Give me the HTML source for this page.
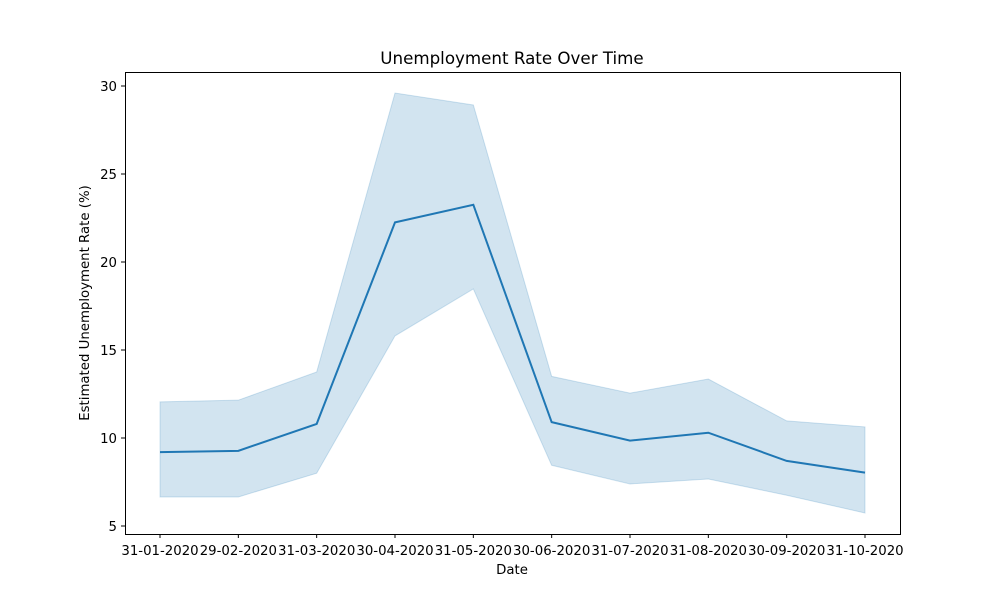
<!DOCTYPE html>
<html><head><meta charset="utf-8"><style>body{margin:0;background:#fff}svg{font-family:"DejaVu Sans","Liberation Sans",sans-serif}</style></head>
<body>
<svg id="chart" width="1000" height="600" xmlns="http://www.w3.org/2000/svg">
<rect x="0" y="0" width="1000" height="600" fill="#fff"/>
<text x="512" y="64" text-anchor="middle" font-size="16.7">Unemployment Rate Over Time</text>
<text x="512" y="574" text-anchor="middle" font-size="13.3">Date</text>
<text transform="translate(89,303) rotate(-90)" text-anchor="middle" font-size="13.3">Estimated Unemployment Rate (%)</text>
<g id="band"></g><g id="line"></g><g id="xticks"></g><g id="yticks"></g>
<rect x="125.5" y="72.5" width="775" height="462" fill="none" stroke="#000" stroke-width="1"/>
</svg>
<script>
const categories=["31-01-2020","29-02-2020","31-03-2020","30-04-2020","31-05-2020","30-06-2020","31-07-2020","31-08-2020","30-09-2020","31-10-2020"];
const meanValues=[9.2,9.27,10.8,22.25,23.25,10.9,9.85,10.3,8.7,8.03];
const upperValues=[12.05,12.15,13.75,29.6,28.92,13.5,12.55,13.35,10.97,10.63];
const lowerValues=[6.65,6.65,8.0,15.8,18.47,8.45,7.39,7.67,6.75,5.74];
const yTickValues=[5,10,15,20,25,30];
const NS="http://www.w3.org/2000/svg";
function xScale(i){return 160+i*(865-160)/(categories.length-1);}
function yScale(v){return 526-(v-5)*17.6;}
function mk(tag,attrs,parent){const e=document.createElementNS(NS,tag);for(const k in attrs)e.setAttribute(k,attrs[k]);parent.appendChild(e);return e;}
let d="";
upperValues.forEach((v,i)=>{d+=(i?"L":"M")+xScale(i)+","+yScale(v);});
for(let i=lowerValues.length-1;i>=0;i--)d+="L"+xScale(i)+","+yScale(lowerValues[i]);
const band=mk("path",{d:d+"Z",fill:"#1f77b4","fill-opacity":"0.2",stroke:"#1f77b4","stroke-opacity":"0.2"},document.getElementById("band"));


const line=mk("polyline",{points:meanValues.map((v,i)=>xScale(i)+","+yScale(v)).join(" "),fill:"none",stroke:"#1f77b4","stroke-width":"2"},document.getElementById("line"));


const xg=document.getElementById("xticks");
categories.forEach((c,i)=>{
 const t=mk("line",{x1:xScale(i),x2:xScale(i),y1:534,y2:538,stroke:"#000"},xg);
 
 
 const l=mk("text",{x:xScale(i),y:555,"text-anchor":"middle","font-size":"13.3"},xg);l.textContent=c;
 
 
});
const yg=document.getElementById("yticks");
yTickValues.forEach(v=>{
 const t=mk("line",{x1:121,x2:125,y1:yScale(v),y2:yScale(v),stroke:"#000"},yg);
 
 
 const l=mk("text",{x:117,y:yScale(v)+5,"text-anchor":"end","font-size":"13.3"},yg);l.textContent=v;
 
 
});
</script>
</body></html>
